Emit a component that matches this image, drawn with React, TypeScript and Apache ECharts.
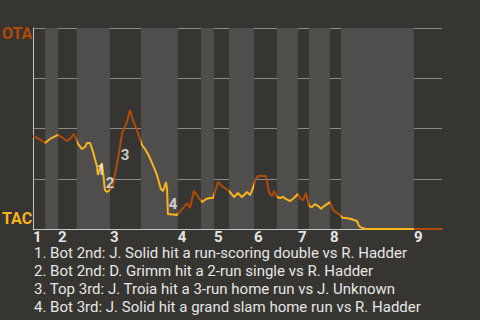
import React, { useEffect, useRef } from "react";
import * as echarts from "echarts";

// Play index (x) and OTA win expectancy in % (y)
const WP_X = [0, 1.6, 3.3, 4.6, 5.7, 6.8, 8.1, 9.2, 10.3, 11.1, 12.2, 13.3, 14.1, 14.7, 15.5, 16.3, 17.4, 17.6, 18.7, 19.0, 19.5, 20.1, 20.9, 21.7, 23.1, 24.2, 25.5, 26.3, 27.1, 28.2, 29.6, 30.4, 31.5, 33.1, 33.7, 34.7, 35.3, 36.1, 36.4, 36.6, 39.1, 40.7, 41.8, 42.6, 43.7, 44.8, 45.9, 47.0, 48.0, 48.9, 50.2, 51.3, 52.4, 53.2, 54.6, 55.6, 56.7, 58.1, 58.9, 59.7, 60.5, 61.1, 63.2, 64.1, 64.9, 65.4, 66.2, 67.0, 67.9, 68.7, 69.8, 70.8, 71.9, 72.7, 73.3, 74.1, 74.9, 75.7, 76.5, 77.4, 78.2, 79.0, 79.8, 80.6, 81.4, 82.5, 83.3, 84.1, 85.0, 86.3, 87.1, 87.9, 88.5, 89.3, 90.4, 103.4, 111];
const WP_Y = [46.3, 44.8, 42.8, 44.8, 45.8, 46.8, 45.3, 43.8, 45.3, 47.3, 42.3, 39.8, 40.8, 42.8, 42.8, 38.3, 30.8, 26.9, 32.8, 28.4, 19.4, 18.4, 19.4, 21.9, 35.3, 47.8, 53.2, 59.2, 54.2, 49.3, 41.8, 39.8, 36.3, 29.4, 26.4, 19.9, 18.9, 23.4, 19.4, 7.5, 7.0, 10.4, 12.9, 10.4, 18.9, 15.9, 13.4, 14.9, 15.4, 15.4, 23.4, 21.4, 19.9, 18.9, 15.9, 17.9, 15.9, 18.4, 16.9, 20.4, 24.9, 26.4, 26.4, 17.9, 16.4, 18.9, 15.9, 15.4, 15.9, 14.9, 13.9, 15.4, 17.4, 14.9, 14.4, 17.9, 11.4, 10.9, 12.4, 11.4, 10.0, 11.4, 12.4, 13.4, 9.5, 8.0, 7.0, 5.5, 5.5, 5.0, 4.5, 4.0, 1.5, 0.5, 0, 0, 0];

// Start of each half inning (top 1st, bot 1st, top 2nd, ...)
const HALF_STARTS = [0, 3.3, 6.8, 11.9, 20.9, 29.3, 39.3, 45.6, 49.1, 53.2, 60.0, 66.2, 71.9, 74.9, 80.6, 83.6, 103.4];
const X_END = 111;
const INNINGS = ["1", "2", "3", "4", "5", "6", "7", "8", "9"];

const TEAM_TOP = "OTA";
const TEAM_BOTTOM = "TAC";

const NOTE_MARKS = ["1", "2", "3", "4"];
const NOTE_X = [18.5, 20.9, 25.0, 38.0];
const NOTE_Y = [29.4, 22.9, 36.8, 12.4];
const NOTES = [
  "1. Bot 2nd: J. Solid hit a run-scoring double vs R. Hadder",
  "2. Bot 2nd: D. Grimm hit a 2-run single vs R. Hadder",
  "3. Top 3rd: J. Troia hit a 3-run home run vs J. Unknown",
  "4. Bot 3rd: J. Solid hit a grand slam home run vs R. Hadder",
];

const ORANGE = "#b04a08";
const YELLOW = "#f8b41c";
const BG = "#373531";
const BAND = "#4f4e4c";
const FONT = "Roboto";

export default function App() {
  const ref = useRef<HTMLDivElement>(null);
  useEffect(() => {
    if (!ref.current) return;
    const chart = echarts.init(ref.current, null, { renderer: "svg" });
    const points = WP_X.map((x, i) => [x, WP_Y[i]]);
    const bands: any[] = [];
    const pieces: any[] = [];
    HALF_STARTS.forEach((s, i) => {
      const e = i + 1 < HALF_STARTS.length ? HALF_STARTS[i + 1] : X_END;
      if (i % 2 === 1) bands.push([{ xAxis: s }, { xAxis: e }]);
      const last = i === HALF_STARTS.length - 1;
      pieces.push(
        last
          ? { gte: s, lte: e + 1, color: i % 2 ? YELLOW : ORANGE }
          : { gte: s, lt: e, color: i % 2 ? YELLOW : ORANGE }
      );
    });
    const inningStarts = HALF_STARTS.filter((_, i) => i % 2 === 0);
    const option: any = {
      animation: false,
      backgroundColor: BG,
      grid: { left: 33, right: 38, top: 28, bottom: 91 },
      xAxis: {
        type: "value",
        min: 0,
        max: X_END,
        axisLine: { show: true, lineStyle: { color: "#c4c4c4", width: 1 } },
        axisTick: { show: false },
        splitLine: { show: false },
        axisLabel: {
          customValues: inningStarts,
          formatter: (v: number) => {
            const k = inningStarts.findIndex((s) => Math.abs(s - v) < 1e-6);
            return k >= 0 ? INNINGS[k] : "";
          },
          align: "left",
          margin: 2,
          color: "#e4e4e4",
          fontFamily: FONT,
          fontWeight: "bold",
          fontSize: 15,
          lineHeight: 12,
          showMinLabel: true,
          showMaxLabel: true,
        },
      },
      yAxis: {
        type: "value",
        min: 0,
        max: 100,
        interval: 25,
        axisLine: { show: true, lineStyle: { color: "#c4c4c4", width: 1 } },
        axisTick: { show: false },
        axisLabel: { show: false },
        splitLine: { show: true, lineStyle: { color: "#8a8a88", width: 1 } },
      },
      visualMap: {
        show: false,
        type: "piecewise",
        dimension: 0,
        seriesIndex: 0,
        pieces,
      },
      series: [
        {
          type: "line",
          data: points,
          showSymbol: false,
          symbol: "none",
          lineStyle: { width: 2 },
          z: 3,
          markArea: {
            silent: true,
            itemStyle: { color: BAND },
            data: bands,
          },
        },
        {
          type: "scatter",
          symbolSize: 0,
          z: 5,
          data: NOTE_X.map((x, i) => ({ value: [x, NOTE_Y[i]], name: NOTE_MARKS[i] })),
          label: {
            show: true,
            position: "inside",
            formatter: (p: any) => p.name,
            color: "#f0f0f0",
            fontFamily: FONT,
            fontWeight: "bold",
            fontSize: 15,
          },
        },
      ],
      graphic: [
        {
          type: "text",
          left: 2,
          top: 25,
          style: { text: TEAM_TOP, fill: ORANGE, font: `bold 16px ${FONT}` },
        },
        {
          type: "text",
          left: 2,
          top: 210,
          style: { text: TEAM_BOTTOM, fill: YELLOW, font: `bold 16px ${FONT}` },
        },
        ...NOTES.map((t, i) => ({
          type: "text",
          x: 34,
          y: 253 + i * 18,
          style: {
            text: t,
            fill: "#e6e6e6",
            font: `15px ${FONT}`,
            lineHeight: 13,
            textVerticalAlign: "middle",
            verticalAlign: "middle",
          },
        })),
      ],
    };
    chart.setOption(option);
    return () => chart.dispose();
  }, []);
  return (
    <div
      ref={ref}
      style={{ position: "fixed", left: 0, top: 0, width: 480, height: 320 }}
    />
  );
}
